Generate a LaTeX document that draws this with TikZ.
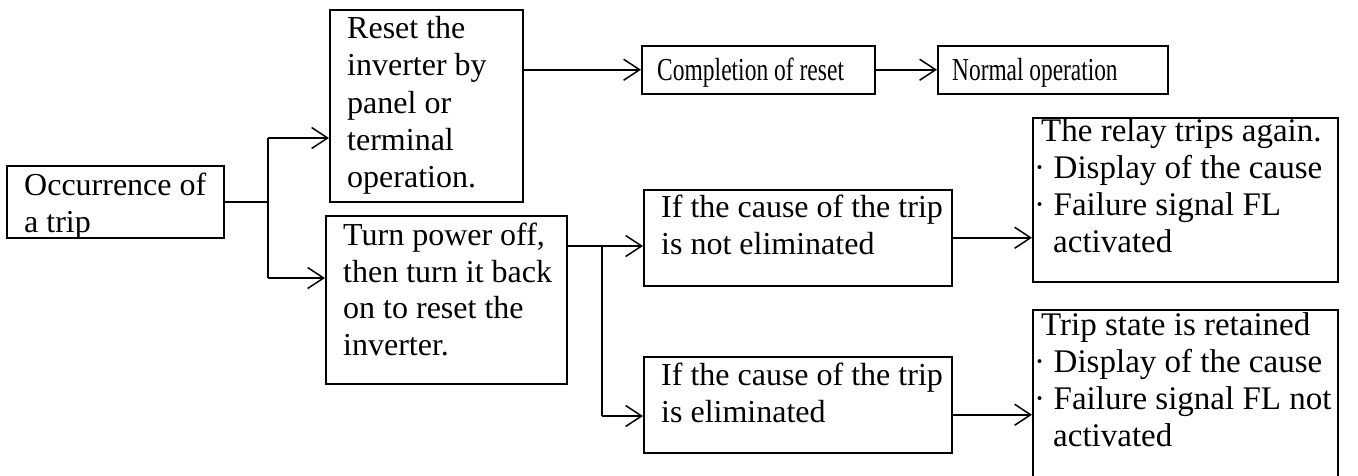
\documentclass[tikz,border=0pt]{standalone}
\usepackage{fontspec}
\setmainfont{Liberation Serif}
\usetikzlibrary{arrows.meta}
\begin{document}
\begin{tikzpicture}[x=1pt,y=-1pt,
  box/.style={draw,line width=1.5pt,rectangle,inner sep=0pt,anchor=north west},
  txt/.style={inner sep=0pt,anchor=base west,font=\fontsize{32}{37}\selectfont},
  wide/.style={txt,font=\fontsize{33}{37}\selectfont},
  conn/.style={line width=1.5pt},
  arr/.style={line width=1.5pt,-{Straight Barb[length=16pt,width=21pt,line width=1.5pt]}}]
\useasboundingbox (0,0) rectangle (1358,475);
% boxes
\node[box,minimum width=217pt,minimum height=72pt] (occ) at (6,165) {};
\node[box,minimum width=193pt,minimum height=192pt] (reset) at (329,9) {};
\node[box,minimum width=241pt,minimum height=168pt] (turn) at (325,215) {};
\node[box,minimum width=233pt,minimum height=48pt] (comp) at (641,45) {};
\node[box,minimum width=230pt,minimum height=48pt] (normal) at (937,45) {};
\node[box,minimum width=308pt,minimum height=96pt] (ifnot) at (643,189) {};
\node[box,minimum width=308pt,minimum height=96pt] (ifelim) at (643,356) {};
\node[box,minimum width=305pt,minimum height=164pt] (relay) at (1032,117) {};
\node[box,minimum width=305pt,minimum height=172pt] (trip) at (1032,309) {};
% texts
\node[txt] (occ1) at (24,195) {Occurrence of};
\node[txt] (occ2) at (24,232) {a trip};
\node[txt] (res1) at (347,38) {Reset the};
\node[txt] (res2) at (347,75.5) {inverter by};
\node[txt] (res3) at (347,113) {panel or};
\node[txt] (res4) at (347,150) {terminal};
\node[txt] (res5) at (347,187) {operation.};
\node[txt] (turn1) at (343,245) {Turn power off,};
\node[txt] (turn2) at (343,282) {then turn it back};
\node[txt] (turn3) at (343,318.5) {on to reset the};
\node[txt] (turn4) at (343,355) {inverter.};
\node[txt] (comp1) at (657,80) {\scalebox{0.735}[1]{Completion of reset}};
\node[txt] (norm1) at (952,80) {\scalebox{0.73}[1]{Normal operation}};
\node[txt] (ifn1) at (661,217) {If the cause of the trip};
\node[txt] (ifn2) at (661,254) {is not eliminated};
\node[txt] (ife1) at (661,385) {If the cause of the trip};
\node[txt] (ife2) at (661,422) {is eliminated};
\node[wide] (rel1) at (1041,141) {The relay trips again.};
\node[wide] (rel2) at (1034,178) {·\hspace{0.26em}Display of the cause};
\node[wide] (rel3) at (1034,215) {·\hspace{0.26em}Failure signal FL};
\node[wide] (rel4) at (1053,252) {activated};
\node[wide] (trp1) at (1041,335) {Trip state is retained};
\node[wide] (trp2) at (1034,372) {·\hspace{0.26em}Display of the cause};
\node[wide] (trp3) at (1034,409) {·\hspace{0.26em}Failure signal FL not};
\node[wide] (trp4) at (1053,446) {activated};
% connectors
\coordinate (k1) at (268,138);
\coordinate (k2) at (268,278);
\coordinate (j1) at (602,246);
\coordinate (j2) at (602,416);
\draw[conn] (occ.east) -- (occ.east -| k1);
\draw[conn] (k1) -- (k2);
\draw[arr] (k1) -- (k1 -| reset.west);
\draw[arr] (k2) -- (k2 -| turn.west);
\draw[arr] (reset.east |- comp.west) -- (comp.west);
\draw[arr] (comp.east) -- (normal.west);
\draw[conn] (turn.east |- j1) -- (j1);
\draw[conn] (j1) -- (j2);
\draw[arr] (j1) -- (j1 -| ifnot.west);
\draw[arr] (j2) -- (j2 -| ifelim.west);
\draw[arr] (ifnot.east) -- (ifnot.east -| relay.west);
\draw[arr] ([yshift=-10pt]ifelim.east) -- ([yshift=-10pt]ifelim.east -| trip.west);
\end{tikzpicture}
\end{document}
